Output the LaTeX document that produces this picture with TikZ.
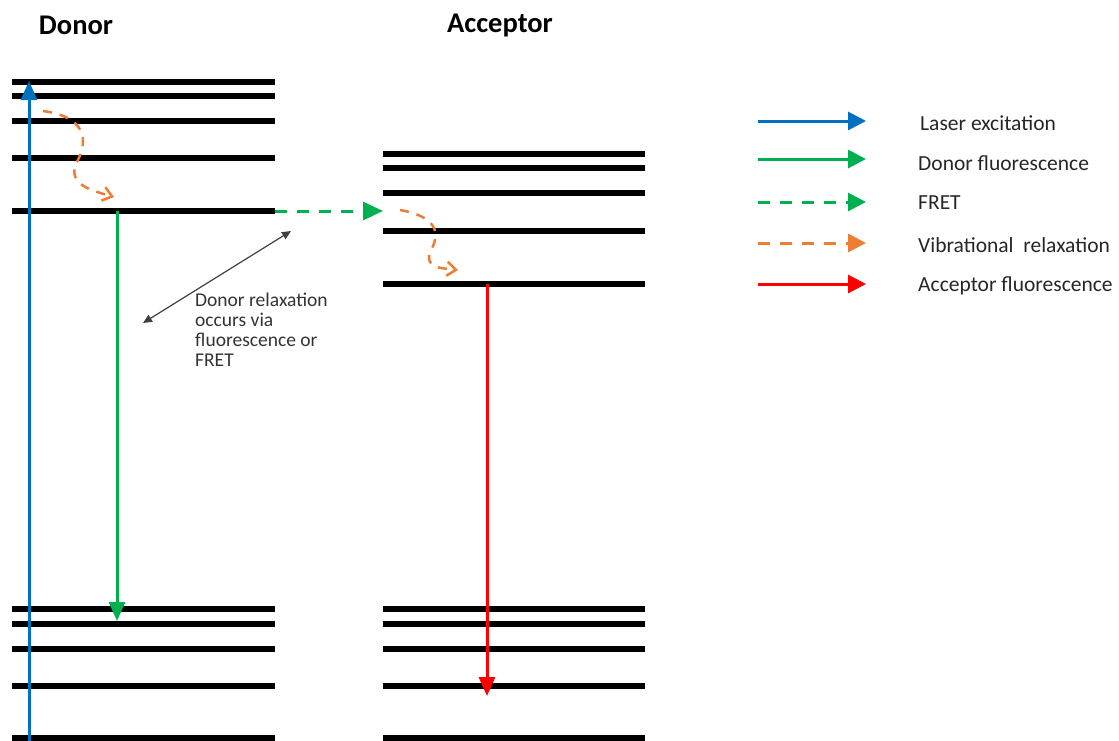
\documentclass[tikz,border=0pt]{standalone}
\usepackage{fontspec}
\setmainfont{Carlito}
\usetikzlibrary{arrows.meta}
\definecolor{cblue}{HTML}{0070C0}
\definecolor{cgreen}{HTML}{00B050}
\definecolor{corange}{HTML}{ED7D31}
\definecolor{cred}{HTML}{FF0000}
\begin{document}
\begin{tikzpicture}[x=1pt,y=-1pt,
  level/.style={line width=6pt,black},
  bigtip/.style={-{Triangle[length=19pt,width=16pt]}},
  vibtip/.style={-{Straight Barb[length=9pt,width=14pt,line width=2.5pt]}},
  fretdash/.style={dash pattern=on 12pt off 10pt},
  vibdash/.style={dash pattern=on 9pt off 8pt},
  legtext/.style={anchor=west,font=\fontsize{21.5}{25}\selectfont,inner sep=0pt,text=black!85},
  title/.style={font=\bfseries\fontsize{28.5}{34}\selectfont}]
\useasboundingbox (0,0) rectangle (1119,740);
% titles
\node[title] (tdonor) at (76,25) {Donor};
\node[title] (taccept) at (500,25) {Acceptor};
% donor levels
\foreach \y [count=\i] in {82,96,121,158,211,609,624,649,686,738}
  \draw[level] (12,\y) coordinate (dl\i) -- (275,\y) coordinate (dr\i);
% acceptor levels
\foreach \y [count=\i] in {154,168,193,231,284,609,624,649,686,738}
  \draw[level] (383,\y) coordinate (al\i) -- (645,\y) coordinate (ar\i);
% points
\coordinate (bstart) at (29,742);
\coordinate (bend) at (29,81);
\coordinate (gstart) at (117,211);
\coordinate (gend) at (117,621);
\coordinate (rstart) at (487,284);
\coordinate (rend) at (487,696);
% laser excitation
\draw[cblue,line width=3pt,bigtip] (bstart) -- (bend);
% donor fluorescence
\draw[cgreen,line width=3pt,bigtip] (gstart) -- (gend);
% FRET
\draw[cgreen,line width=3pt,fretdash,-{Triangle[length=20pt,width=18pt]}] (dr5) -- (al5 |- dr5);
% acceptor fluorescence
\draw[cred,line width=3pt,bigtip] (rstart) -- (rend);
% vibrational relaxation donor
\coordinate (v1s) at (43,111);
\coordinate (v1e) at (114,197);
\draw[corange,line width=2.5pt,vibdash,vibtip]
  (v1s) .. controls (95,118) and (85,150) .. (75,165)
  .. controls (70,185) and (90,190) .. (v1e);
% vibrational relaxation acceptor
\coordinate (v2s) at (400,210);
\coordinate (v2e) at (458,270);
\draw[corange,line width=2.5pt,vibdash,vibtip]
  (v2s) .. controls (445,218) and (437,240) .. (430,252)
  .. controls (425,268) and (440,268) .. (v2e);
% double arrow
\coordinate (da1) at (143,323);
\coordinate (da2) at (291,231);
\draw[black!75,line width=1.2pt,{Triangle[length=9pt,width=8pt]}-{Triangle[length=9pt,width=8pt]}] (da1) -- (da2);
\node[anchor=north west,align=left,inner sep=0pt,font=\fontsize{19.5}{20}\selectfont,text=black!80] (note) at (195,293)
  {Donor relaxation\\occurs via\\fluorescence or\\FRET};
% legend
\coordinate (l1a) at (758,121); \coordinate (l1b) at (866,121);
\coordinate (l2a) at (758,159); \coordinate (l2b) at (866,159);
\coordinate (l3a) at (758,202); \coordinate (l3b) at (866,202);
\coordinate (l4a) at (758,243); \coordinate (l4b) at (866,243);
\coordinate (l5a) at (758,284); \coordinate (l5b) at (866,284);
\draw[cblue,line width=3pt,-{Triangle[length=18pt,width=18pt]}] (l1a) -- (l1b);
\draw[cgreen,line width=3pt,-{Triangle[length=18pt,width=18pt]}] (l2a) -- (l2b);
\draw[cgreen,line width=3pt,dash pattern=on 12pt off 10pt,-{Triangle[length=18pt,width=18pt]}] (l3a) -- (l3b);
\draw[corange,line width=3pt,dash pattern=on 12pt off 10pt,-{Triangle[length=18pt,width=18pt]}] (l4a) -- (l4b);
\draw[cred,line width=3pt,-{Triangle[length=18pt,width=18pt]}] (l5a) -- (l5b);
\node[legtext] (t1) at (920,123) {Laser excitation};
\node[legtext] (t2) at (918,163) {Donor fluorescence};
\node[legtext] (t3) at (918,203) {FRET};
\node[legtext] (t4) at (918,245) {Vibrational\ \ relaxation};
\node[legtext] (t5) at (918,286) {Acceptor fluorescence};
\end{tikzpicture}
\end{document}
